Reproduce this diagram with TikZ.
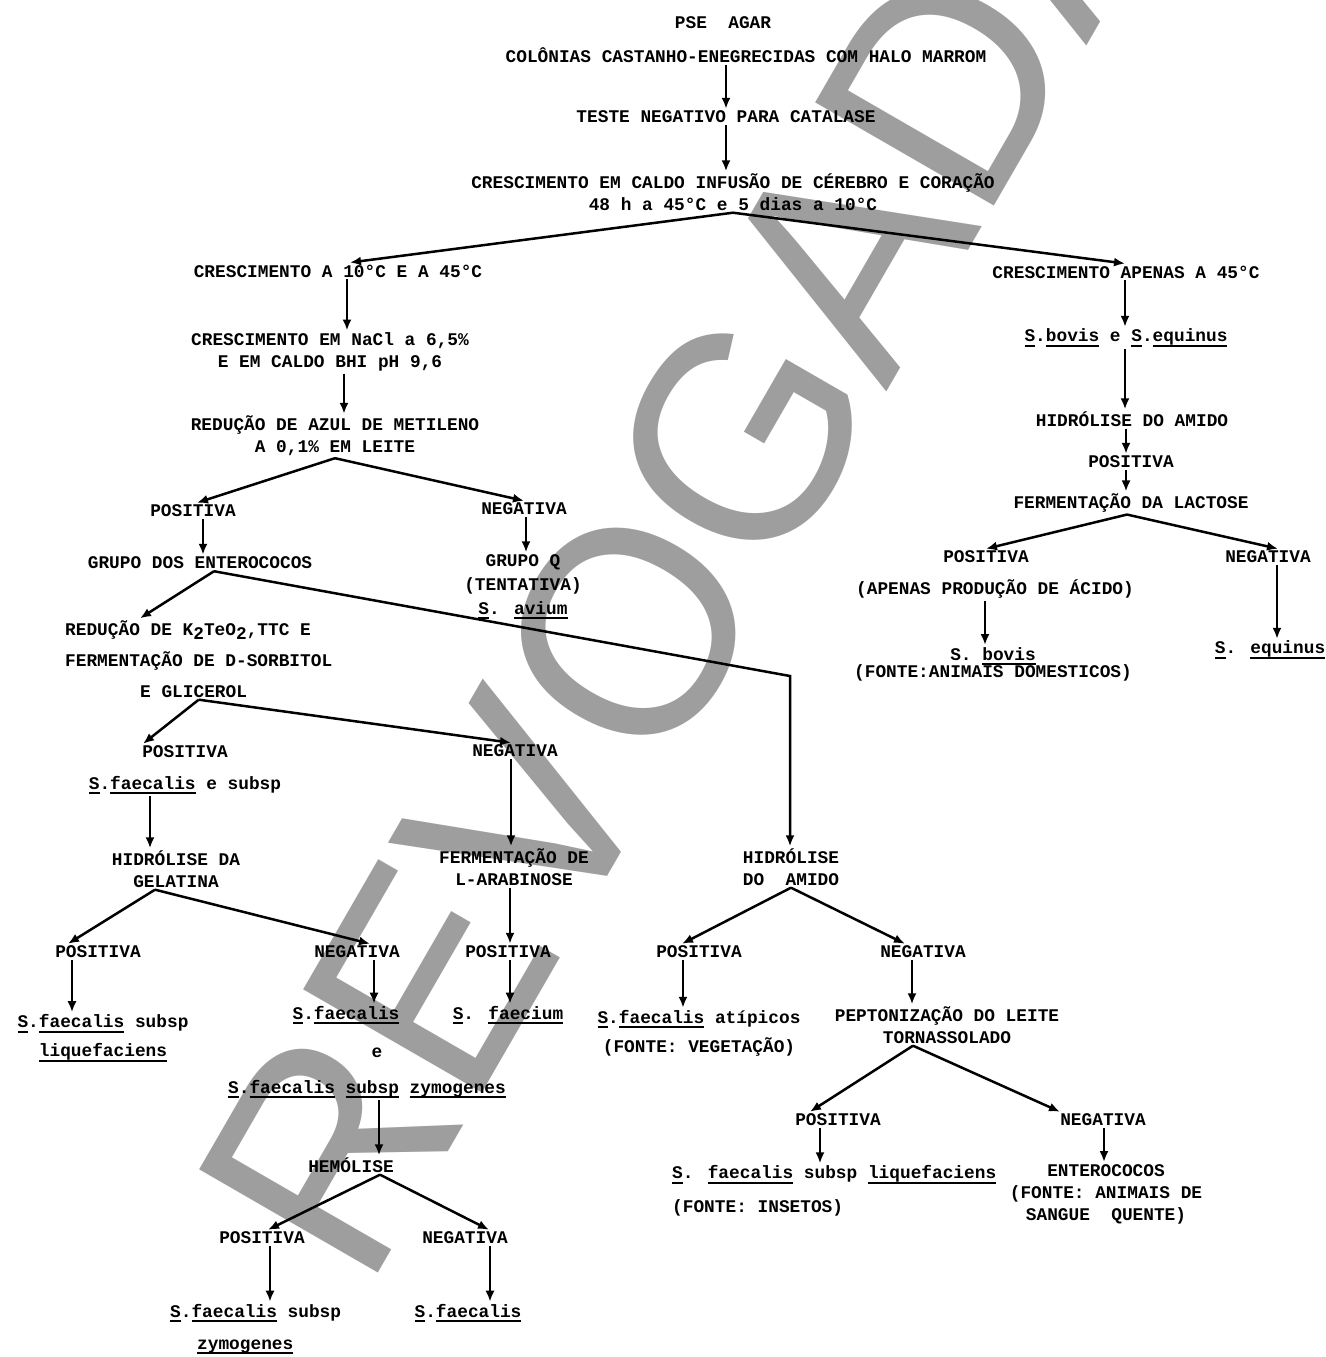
\documentclass[tikz,border=0pt]{standalone}
\usepackage{fontspec}
\usepackage{tikz}
\usetikzlibrary{arrows.meta, calc}
\newfontfamily\typewfont{Liberation Mono}
\newfontfamily\stampfont{Liberation Sans}
\definecolor{stampgray}{RGB}{158,158,158}
\newcommand{\typed}{\typewfont\bfseries\fontsize{17.8}{22}\selectfont}
\newcommand{\ulword}[1]{\leavevmode\setbox0=\hbox{#1}\rlap{\rule[-5pt]{\wd0}{2pt}}\box0\relax}
\newcommand{\lowtwo}{\raisebox{-4pt}{2}}

\begin{document}
\begin{tikzpicture}[x=1pt, y=-1pt,
    txt/.style={font=\typed, align=center, inner sep=2pt},
    arr/.style={-{Latex[length=11pt, width=9pt]}, line width=2.5pt},
    stamp/.style={font=\stampfont\fontsize{300}{300}\selectfont, text=stampgray, rotate=60, xscale=0.96, inner sep=0pt}]
    \useasboundingbox (0,0) rectangle (1325,1357);

    % Watermark
    \node[stamp] (watermark) at (685,535) {REVOGADA};

    % Top of the key
    \node[txt] (psea) at (723,23) {PSE\ \ AGAR};
    \node[txt] (colon) at (746,55) {COLÔNIAS CASTANHO-ENEGRECIDAS COM HALO MARROM};
    \node[txt] (catal) at (726,117) {TESTE NEGATIVO PARA CATALASE};
    \node[txt] (caldo) at (733,192) {CRESCIMENTO EM CALDO INFUSÃO DE CÉREBRO E CORAÇÃO\\48 h a 45°C e 5 dias a 10°C};

    % Left branch
    \node[txt] (ambas) at (338,271) {CRESCIMENTO A 10°C E A 45°C};
    \node[txt] (nacl) at (330,352) {CRESCIMENTO EM NaCl a 6,5\%\\E EM CALDO BHI pH 9,6};
    \node[txt] (azul) at (335,436) {REDUÇÃO DE AZUL DE METILENO\\A 0,1\% EM LEITE};
    \node[txt] (pos1) at (193,511) {POSITIVA};
    \node[txt] (neg1) at (524,509) {NEGATIVA};
    \node[txt] (enter) at (200,563) {GRUPO DOS ENTEROCOCOS};
    \node[txt] (grupoq) at (523,587) {GRUPO Q\\[2pt](TENTATIVA)\\[2pt]\ulword{S}. \ulword{avium}};
    \node[txt, anchor=west, align=left] (telur) at (63,659) {REDUÇÃO DE K\lowtwo TeO\lowtwo,TTC E\\[9pt]FERMENTAÇÃO DE D-SORBITOL\\[9pt]\hspace*{75pt}E GLICEROL};
    \node[txt] (pos2) at (185,752) {POSITIVA};
    \node[txt] (neg2) at (515,751) {NEGATIVA};
    \node[txt] (sfae) at (185,785) {\ulword{S}.\ulword{faecalis} e subsp};
    \node[txt] (gelat) at (176,869) {HIDRÓLISE DA\\GELATINA};
    \node[txt] (pos3) at (98,952) {POSITIVA};
    \node[txt] (neg3) at (357,952) {NEGATIVA};
    \node[txt] (liq1) at (103,1038) {\ulword{S}.\ulword{faecalis} subsp\\[7pt]\ulword{liquefaciens}};
    \node[txt] (sfae2) at (346,1015) {\ulword{S}.\ulword{faecalis}};
    \node[txt] (conj) at (377,1053) {e};
    \node[txt] (zym) at (367,1089) {\ulword{S}.\ulword{faecalis} \ulword{subsp} \ulword{zymogenes}};
    \node[txt] (hemo) at (351,1165) {HEMÓLISE};
    \node[txt] (pos4) at (262,1238) {POSITIVA};
    \node[txt] (neg4) at (465,1238) {NEGATIVA};
    \node[txt, anchor=west, align=left] (zym2) at (168,1329) {\ulword{S}.\ulword{faecalis} subsp\\[10pt]\hspace*{27pt}\ulword{zymogenes}};
    \node[txt] (sfae3) at (468,1313) {\ulword{S}.\ulword{faecalis}};
    \node[txt] (arab) at (514,867) {FERMENTAÇÃO DE\\L-ARABINOSE};
    \node[txt] (pos5) at (508,952) {POSITIVA};
    \node[txt] (faec) at (508,1015) {\ulword{S}. \ulword{faecium}};

    % Middle branch
    \node[txt] (amido) at (791,867) {HIDRÓLISE\\DO\ \ AMIDO};
    \node[txt] (pos6) at (699,952) {POSITIVA};
    \node[txt] (neg6) at (923,952) {NEGATIVA};
    \node[txt] (atip) at (699,1033) {\ulword{S}.\ulword{faecalis} atípicos\\[7pt](FONTE: VEGETAÇÃO)};
    \node[txt] (pepto) at (947,1025) {PEPTONIZAÇÃO DO LEITE\\TORNASSOLADO};
    \node[txt] (pos7) at (838,1120) {POSITIVA};
    \node[txt] (neg7) at (1103,1120) {NEGATIVA};
    \node[txt, anchor=west, align=left] (liq2) at (670,1191) {\ulword{S}. \ulword{faecalis} subsp \ulword{liquefaciens}\\[12pt](FONTE: INSETOS)};
    \node[txt] (entero) at (1106,1194) {ENTEROCOCOS\\(FONTE: ANIMAIS DE\\SANGUE\ \ QUENTE)};
    \coordinate (knee) at (790,676);

    % Right branch
    \node[txt] (apenas) at (1126,272) {CRESCIMENTO APENAS A 45°C};
    \node[txt] (bovis) at (1126,338) {\ulword{S}.\ulword{bovis} e \ulword{S}.\ulword{equinus}};
    \node[txt] (amido2) at (1132,419) {HIDRÓLISE DO AMIDO};
    \node[txt] (pos8) at (1131,462) {POSITIVA};
    \node[txt] (lacto) at (1131,503) {FERMENTAÇÃO DA LACTOSE};
    \node[txt] (pos9) at (986,557) {POSITIVA};
    \node[txt] (neg9) at (1268,557) {NEGATIVA};
    \node[txt] (acido) at (995,589) {(APENAS PRODUÇÃO DE ÁCIDO)};
    \node[txt] (bov2) at (993,664) {S. \ulword{bovis}\\[-5pt](FONTE:ANIMAIS DOMESTICOS)};
    \node[txt] (equi) at (1270,650) {\ulword{S}. \ulword{equinus}};

    % Connectors, top
    \draw[arr] (catal.north |- colon.south) -- (catal.north);
    \draw[arr] (catal.south) -- (catal.south |- caldo.north);
    \draw[arr] (caldo.south) -- ([xshift=12]ambas.north);
    \draw[arr] (caldo.south) -- ([xshift=-1]apenas.north);

    % Connectors, left
    \draw[arr] ([xshift=9]ambas.south) -- ([xshift=9]ambas.south |- nacl.north);
    \draw[arr] ([xshift=14]nacl.south) -- ([xshift=14]nacl.south |- azul.north);
    \draw[arr] (azul.south) -- ([xshift=4]pos1.north);
    \draw[arr] (azul.south) -- (neg1.north);
    \draw[arr] ([xshift=10]pos1.south) -- ([xshift=10]pos1.south |- enter.north);
    \draw[arr] ([xshift=2]neg1.south) -- ([xshift=2]neg1.south |- grupoq.north);
    \draw[arr] ([xshift=14]enter.south) -- ([xshift=77]telur.north west);
    \draw[arr] ([xshift=14]enter.south) -- (knee) -- (knee |- amido.north);
    \draw[arr] (telur.south) -- ([xshift=-42]pos2.north);
    \draw[arr] (telur.south) -- ([xshift=-4]neg2.north);
    \draw[arr] ([xshift=-35]sfae.south) -- ([xshift=-35]sfae.south |- gelat.north);
    \draw[arr] ([xshift=-21]gelat.south) -- ([xshift=-30]pos3.north);
    \draw[arr] ([xshift=-21]gelat.south) -- ([xshift=13]neg3.north);
    \draw[arr] ([xshift=-26]pos3.south) -- ([xshift=-26]pos3.south |- liq1.north);
    \draw[arr] ([xshift=17]neg3.south) -- ([xshift=17]neg3.south |- sfae2.north);
    \draw[arr] ([xshift=12]zym.south) -- ([xshift=12]zym.south |- hemo.north);
    \draw[arr] ([xshift=29]hemo.south) -- ([xshift=6]pos4.north);
    \draw[arr] ([xshift=29]hemo.south) -- ([xshift=24]neg4.north);
    \draw[arr] ([xshift=8]pos4.south) -- ([xshift=8]pos4.south |- zym2.north);
    \draw[arr] ([xshift=25]neg4.south) -- ([xshift=25]neg4.south |- sfae3.north);
    \draw[arr] ([xshift=-4]neg2.south) -- ([xshift=-4]neg2.south |- arab.north);
    \draw[arr] ([xshift=-4]arab.south) -- ([xshift=-4]arab.south |- pos5.north);
    \draw[arr] ([xshift=2]pos5.south) -- ([xshift=2]pos5.south |- faec.north);

    % Connectors, middle
    \draw[arr] (amido.south) -- ([xshift=-17]pos6.north);
    \draw[arr] (amido.south) -- ([xshift=-18]neg6.north);
    \draw[arr] ([xshift=-16]pos6.south) -- ([xshift=-16]pos6.south |- atip.north);
    \draw[arr] ([xshift=-11]neg6.south) -- ([xshift=-11]neg6.south |- pepto.north);
    \draw[arr] ([xshift=-34]pepto.south) -- ([xshift=-28]pos7.north);
    \draw[arr] ([xshift=-34]pepto.south) -- ([xshift=-43]neg7.north);
    \draw[arr] ([xshift=-18]pos7.south) -- ([xshift=-18]pos7.south |- liq2.north);
    \draw[arr] ([xshift=1]neg7.south) -- ([xshift=1]neg7.south |- entero.north);

    % Connectors, right
    \draw[arr] ([xshift=-1]apenas.south) -- ([xshift=-1]apenas.south |- bovis.north);
    \draw[arr] ([xshift=-1]bovis.south) -- ([xshift=-1]bovis.south |- amido2.north);
    \draw[arr] ([xshift=-6]amido2.south) -- ([xshift=-5]pos8.north);
    \draw[arr] ([xshift=-5]pos8.south) -- ([xshift=-5]lacto.north);
    \draw[arr] ([xshift=-4]lacto.south) -- (pos9.north);
    \draw[arr] ([xshift=-4]lacto.south) -- ([xshift=10]neg9.north);
    \draw[arr] ([xshift=-10]acido.south) -- ([xshift=-10]acido.south |- bov2.north);
    \draw[arr] ([xshift=9]neg9.south) -- ([xshift=9]neg9.south |- equi.north);
\end{tikzpicture}
\end{document}
